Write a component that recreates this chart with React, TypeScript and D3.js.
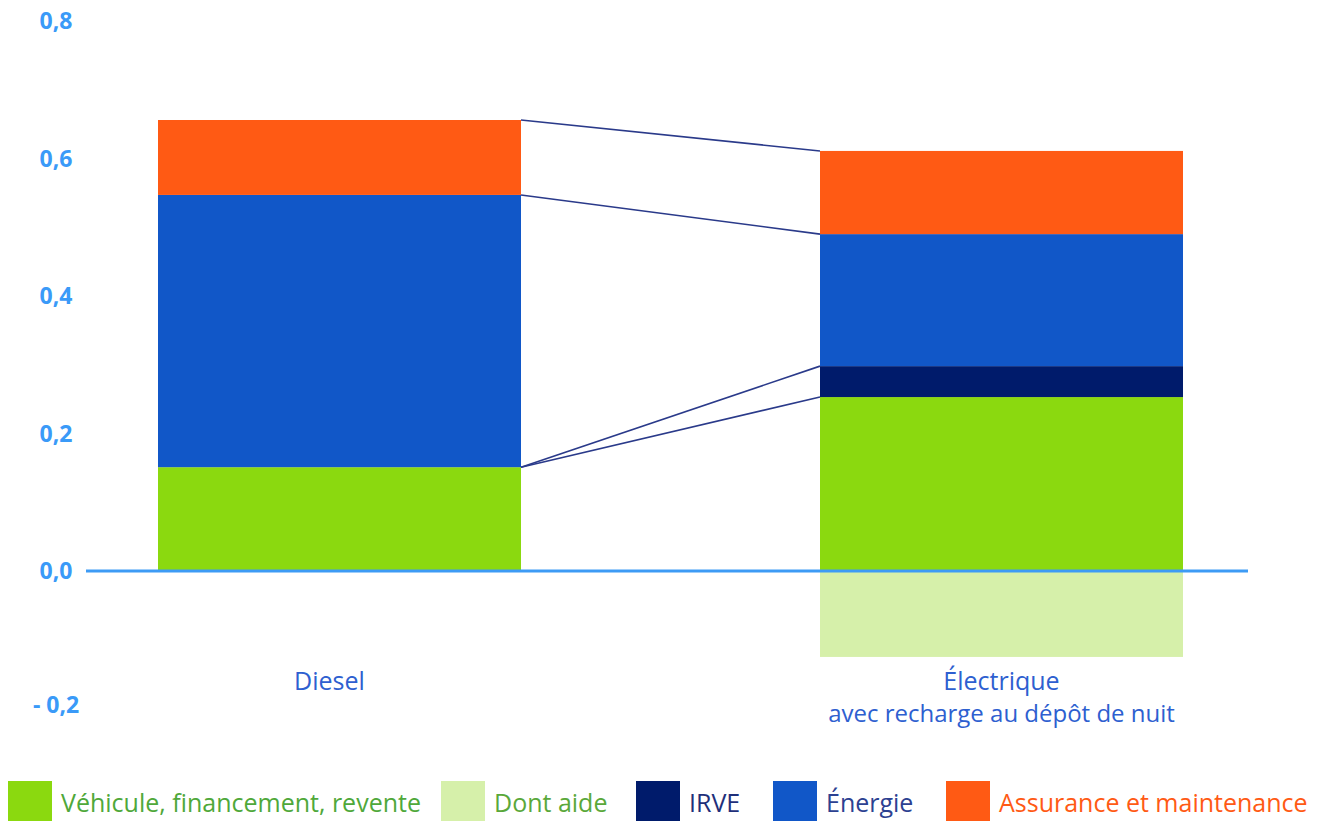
import React from "react";
import * as d3 from "d3";

const categories = ["Diesel", "Électrique"];
const categorySubtitles = ["", "avec recharge au dépôt de nuit"];
const seriesKeys = ["vehicule", "irve", "energie", "assurance"];
const dieselValues = [0.151, 0, 0.396, 0.109];
const electricValues = [0.253, 0.045, 0.192, 0.121];
const aideValues = [0, -0.125];
const yTicks = [-0.2, 0, 0.2, 0.4, 0.6, 0.8];
const legendItems = ["Véhicule, financement, revente", "Dont aide", "IRVE", "Énergie", "Assurance et maintenance"];

const colors: Record<string, string> = {
  vehicule: "#8BD90F",
  aide: "#D6F0AA",
  irve: "#001B6B",
  energie: "#1157C8",
  assurance: "#FF5A14",
};
const legendColors = [colors.vehicule, colors.aide, colors.irve, colors.energie, colors.assurance];
const legendTextColors = ["#4FA83A", "#5AA83A", "#1F2F7A", "#2C4191", "#FF5A14"];
const legendX = [8, 441, 636, 773, 946];

export default function App() {
  const W = 1340, H = 821;
  const y = d3.scaleLinear().domain([-0.2, 0.8]).range([708.5, 21]);
  const x = d3.scalePoint<string>().domain(categories).range([339.5, 1001.5]);
  const bw = 363;
  const allValues = [dieselValues, electricValues];

  const stacks = allValues.map((vals) => {
    let acc = 0;
    return vals.map((v, i) => {
      const y0 = acc;
      acc += v;
      return { key: seriesKeys[i], y0, y1: acc };
    });
  });

  const fmt = (t: number) => (t < 0 ? "- " + d3.format(".1f")(-t).replace(".", ",") : d3.format(".1f")(t).replace(".", ","));

  return (
    <svg width={W} height={H} style={{ position: "absolute", left: 0, top: 0, fontFamily: "'Open Sans', sans-serif" }}>
      <rect width={W} height={H} fill="#fff" />
      {categories.map((c, i) =>
        aideValues[i] < 0 ? (
          <rect key={"aide" + i} x={x(c)! - bw / 2} y={y(0)} width={bw} height={y(aideValues[i]) - y(0)} fill={colors.aide} />
        ) : null
      )}
      {categories.map((c, ci) =>
        stacks[ci].map((s) =>
          s.y1 > s.y0 ? (
            <rect key={c + s.key} x={x(c)! - bw / 2} y={y(s.y1)} width={bw} height={y(s.y0) - y(s.y1)} fill={colors[s.key]} />
          ) : null
        )
      )}
      {seriesKeys.map((k, i) => (
        <line
          key={"conn" + k}
          x1={x(categories[0])! + bw / 2}
          y1={y(stacks[0][i].y1)}
          x2={x(categories[1])! - bw / 2}
          y2={y(stacks[1][i].y1)}
          stroke="#2A3A8A"
          strokeWidth={1.6}
        />
      ))}
      <line x1={86} x2={1248} y1={y(0)} y2={y(0)} stroke="#3D9BF5" strokeWidth={3} />
      {yTicks.map((t) => (
        <text key={"t" + t} x={56} y={y(t) + (t < 0 ? -4 : 0)} dy="0.35em" textAnchor="middle" fontSize={23} fontWeight={700} fill="#3A9AF8">
          {fmt(t)}
        </text>
      ))}
      {categories.map((c, i) => (
        <g key={"cat" + c}>
          <text x={x(c)! + (i === 0 ? -10 : 0)} y={690} textAnchor="middle" fontSize={25} fill="#2E5FD0">
            {c}
          </text>
          {categorySubtitles[i] ? (
            <text x={x(c)!} y={722} textAnchor="middle" fontSize={24} fill="#2E5FD0">
              {categorySubtitles[i]}
            </text>
          ) : null}
        </g>
      ))}
      {legendItems.map((l, i) => (
        <g key={"leg" + i}>
          <rect x={legendX[i]} y={781} width={44} height={42} fill={legendColors[i]} />
          <text x={legendX[i] + 53} y={812} fontSize={25} fill={legendTextColors[i]}>
            {l}
          </text>
        </g>
      ))}
    </svg>
  );
}
